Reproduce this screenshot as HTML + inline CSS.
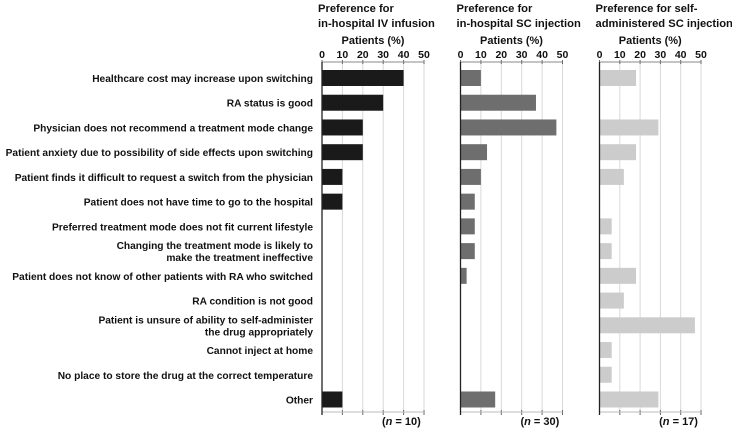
<!DOCTYPE html>
<html><head><meta charset="utf-8"><style>
body{margin:0;background:#fff;}
svg{display:block;font-family:"Liberation Sans",Arial,sans-serif;font-weight:bold;}
</style></head><body>
<svg id="chart" width="732" height="429" viewBox="0 0 732 429" xmlns="http://www.w3.org/2000/svg"></svg>
<script>
const categories=["Healthcare cost may increase upon switching","RA status  is good","Physician does not recommend a treatment mode change","Patient anxiety due to possibility of side effects upon switching","Patient finds it difficult to request a switch from the physician","Patient does not have time to go to the hospital","Preferred treatment mode does not fit current lifestyle","Changing the treatment mode is likely to|make the treatment ineffective","Patient does not know of other patients with RA who switched","RA condition is not good","Patient is unsure of ability to self-administer|the drug appropriately","Cannot inject at home","No place to store the drug at the correct temperature","Other"];
const ivValues=[40,30,20,20,10,10,0,0,0,0,0,0,0,10];
const scValues=[10,37,47,13,10,7,7,7,3,0,0,0,0,17];
const selfValues=[18,0,29,18,12,0,6,6,18,12,47,6,6,29];
const tickLabels=[0,10,20,30,40,50];
const panelTitles=[["Preference for","in-hospital IV infusion"],["Preference for","in-hospital SC injection"],["Preference for self-","administered SC injection"]];
const nLabels=["10","30","17"];
const svg=document.getElementById('chart');
const NS="http://www.w3.org/2000/svg";
function mk(tag,attrs,parent){const e=document.createElementNS(NS,tag);for(const k in attrs)e.setAttribute(k,attrs[k]);(parent||svg).appendChild(e);return e;}
const panels=[{x0:322,x50:424,vals:ivValues,color:"#1a1a1a",name:"iv"},{x0:460.5,x50:562.5,vals:scValues,color:"#6e6e6e",name:"sc"},{x0:599.5,x50:701,vals:selfValues,color:"#cccccc",name:"self"}];
const yTop=62,yBot=412,row0=78,rowStep=24.73,barH=16;
function yPos(i){return row0+i*rowStep;}
categories.forEach((c,i)=>{
  const lines=c.split('|');
  const t=mk('text',{x:313,'text-anchor':'end','font-size':10.2,fill:'#111'});
  
  
  lines.forEach((l,j)=>{const ts=mk('tspan',{x:313,y:yPos(i)+4+(j-(lines.length-1)/2)*12},t);ts.textContent=l;});
});
panels.forEach((p,pi)=>{
  const xs=v=>p.x0+(p.x50-p.x0)*v/50;
  const g=mk('g',{});
  
  
  const tt=mk('text',{x:p.x0-4,'font-size':11.2,fill:'#111'},g);
  
  
  panelTitles[pi].forEach((l,j)=>{const ts=mk('tspan',{x:p.x0-4,y:12+j*15},tt);ts.textContent=l;});
  const at=mk('text',{x:(p.x0+p.x50)/2,y:44,'text-anchor':'middle','font-size':11,fill:'#111'},g);
  
  
  at.textContent="Patients (%)";
  tickLabels.forEach(v=>{
    if(v>0){const gl=mk('line',{x1:xs(v),x2:xs(v),y1:yTop,y2:yBot,stroke:'#d9d9d9','stroke-width':1},g);
    
    }
    const tl=mk('text',{x:xs(v),y:58,'text-anchor':'middle','font-size':10.5,fill:'#111'},g);
    
    
    tl.textContent=v;
    const tk=mk('line',{x1:xs(v),x2:xs(v),y1:yTop-2,y2:yTop+2,stroke:'#666'},g);
    
    
    const tb=mk('line',{x1:xs(v),x2:xs(v),y1:yBot-2,y2:yBot+3,stroke:'#666'},g);
    
    
  });
  const ax=mk('line',{x1:p.x0,x2:p.x50,y1:yTop,y2:yTop,stroke:'#888'},g);
  
  
  const axb=mk('line',{x1:p.x0,x2:p.x50,y1:yBot,y2:yBot,stroke:'#bbb'},g);
  
  
  p.vals.forEach((v,i)=>{
    if(v<=0)return;
    const r=mk('rect',{x:p.x0,y:yPos(i)-barH/2,width:xs(v)-p.x0,height:barH,fill:p.color},g);
    
    
  });
  const ya=mk('line',{x1:p.x0,x2:p.x0,y1:yTop,y2:yBot+3,stroke:'#222','stroke-width':1.3},g);
  
  
  const nt=mk('text',{x:(xs(20)+xs(50))/2+8,y:425,'text-anchor':'middle','font-size':11,fill:'#111'},g);
  
  
  nt.innerHTML='(<tspan font-style="italic">n</tspan> = '+nLabels[pi]+')';
});
</script>
</body></html>
